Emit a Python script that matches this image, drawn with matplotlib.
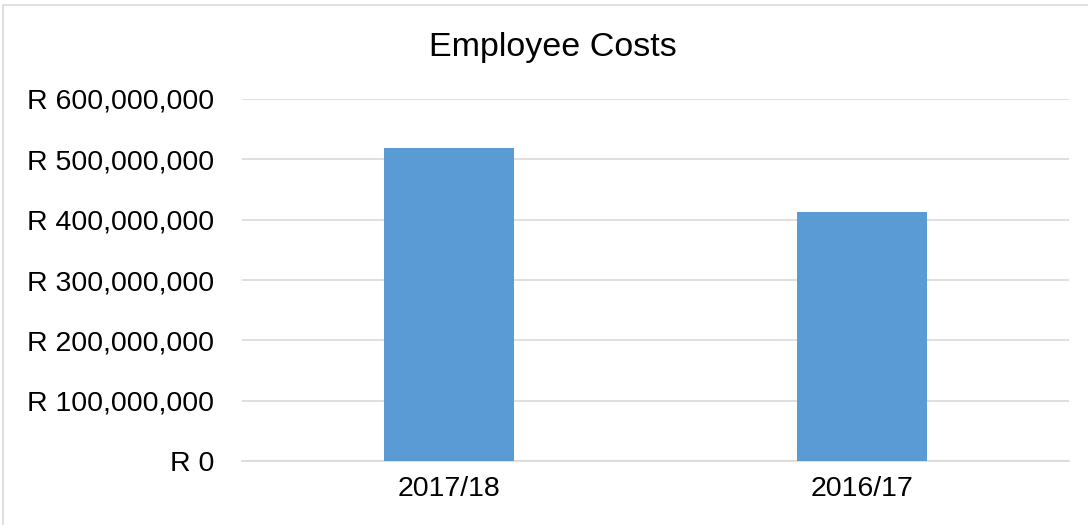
import matplotlib
matplotlib.use("Agg")
import matplotlib.pyplot as plt
from matplotlib.patches import Rectangle
from matplotlib.ticker import FuncFormatter

categories = ["2017/18", "2016/17"]
values = [518_000_000, 412_000_000]
yticks = [0, 100_000_000, 200_000_000, 300_000_000, 400_000_000, 500_000_000, 600_000_000]
title = "Employee Costs"

plt.rcParams['font.family'] = ['Liberation Sans', 'DejaVu Sans']

W, H = 1088, 525
fig = plt.figure(figsize=(W / 100, H / 100), dpi=100)
ax = fig.add_axes([242 / W, 1 - 461 / H, (1069 - 242) / W, (461 - 99) / H])

x = list(range(len(categories)))
ax.bar(x, values, width=0.315, color="#5B9BD5", zorder=3)
ax.set_xlim(-0.5, len(categories) - 0.5)
ax.set_ylim(0, 600_000_000)
ax.set_yticks(yticks)
ax.yaxis.set_major_formatter(FuncFormatter(lambda v, p: "R {:,.0f}".format(v)))
ax.set_xticks(x)
ax.set_xticklabels(categories)
ax.grid(axis="y", color="#d9d9d9", linewidth=1.2, zorder=0)
ax.set_axisbelow(True)
for s in ["top", "right", "left"]:
    ax.spines[s].set_visible(False)
ax.spines["bottom"].set_color("#d9d9d9")
ax.spines["bottom"].set_linewidth(1.2)
ax.tick_params(axis="both", length=0, labelsize=20.5, colors="black")
ax.tick_params(axis="y", pad=20)
ax.tick_params(axis="x", pad=11)

fig.text((428 + 678) / 2 / W, 1 - 47.7 / H, title, ha="center", va="center", fontsize=24.5, color="black")

fig.add_artist(Rectangle((3 / W, -0.1), 1.2, (1 - 5 / H) + 0.1, transform=fig.transFigure,
                         fill=False, edgecolor="#d9d9d9", linewidth=1.2))

fig.savefig("out.png", dpi=100)
